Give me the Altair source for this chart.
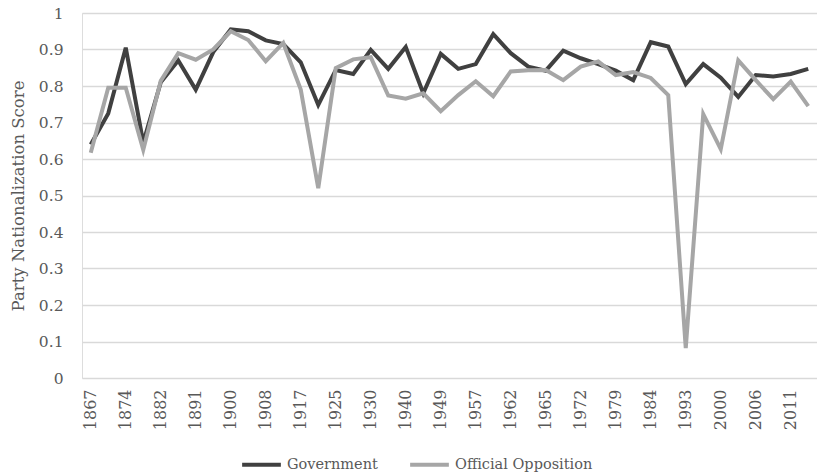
import altair as alt
import pandas as pd

years = ["1867", "1872", "1874", "1878", "1882", "1887", "1891", "1896", "1900", "1904",
         "1908", "1911", "1917", "1921", "1925", "1926", "1930", "1935", "1940", "1945",
         "1949", "1953", "1957", "1958", "1962", "1963", "1965", "1968", "1972", "1974",
         "1979", "1980", "1984", "1988", "1993", "1997", "2000", "2004", "2006", "2008",
         "2011", "2015"]

government = [0.64, 0.725, 0.905, 0.645, 0.81, 0.87, 0.79, 0.893, 0.955, 0.95,
              0.925, 0.915, 0.865, 0.748, 0.844, 0.833, 0.899, 0.847, 0.907, 0.78,
              0.888, 0.847, 0.86, 0.942, 0.89, 0.853, 0.842, 0.897, 0.876, 0.86,
              0.842, 0.816, 0.92, 0.908, 0.805, 0.86, 0.823, 0.77, 0.83, 0.826,
              0.833, 0.847]

opposition = [0.617, 0.795, 0.795, 0.625, 0.814, 0.89, 0.872, 0.9, 0.95, 0.926,
              0.868, 0.918, 0.79, 0.52, 0.849, 0.873, 0.879, 0.774, 0.765, 0.78,
              0.731, 0.775, 0.813, 0.772, 0.84, 0.843, 0.844, 0.816, 0.853, 0.867,
              0.83, 0.838, 0.822, 0.775, 0.082, 0.723, 0.627, 0.87, 0.816, 0.764,
              0.812, 0.745]

series_names = ["Government", "Official Opposition"]
series_colors = ["#404040", "#a6a6a6"]
label_years = years[::2]
y_ticks = [round(i * 0.1, 1) for i in range(11)]

rows = []
for i, yr in enumerate(years):
    rows.append({"year": yr, "order": i, "series": series_names[0], "value": government[i]})
    rows.append({"year": yr, "order": i, "series": series_names[1], "value": opposition[i]})
df = pd.DataFrame(rows)

FONT = "DejaVu Serif"
TEXT = "#595959"

chart = alt.Chart(df).mark_line(strokeWidth=4, strokeJoin="miter").encode(
    x=alt.X("year:O", sort=years,
            scale=alt.Scale(type="point", padding=0.5),
            axis=alt.Axis(values=label_years, labelAngle=-90, title=None, ticks=False,
                          domain=False, grid=False, labelPadding=11, labelFontSize=16,
                          labelFont=FONT, labelColor=TEXT)),
    y=alt.Y("value:Q", scale=alt.Scale(domain=[0, 1], nice=False, zero=True),
            axis=alt.Axis(values=y_ticks, format=".1~f", title="Party Nationalization Score",
                          ticks=False, domain=False, gridColor="#d9d9d9", gridWidth=1.5,
                          labelPadding=19, labelFontSize=15.5, labelFont=FONT, labelColor=TEXT,
                          titleFont=FONT, titleFontSize=16.5, titleFontWeight="normal",
                          titleColor=TEXT, titlePadding=12)),
    color=alt.Color("series:N", scale=alt.Scale(domain=series_names, range=series_colors),
                    legend=alt.Legend(title=None, orient="none", direction="horizontal",
                                      legendX=158, legendY=430,
                                      symbolType="stroke", symbolSize=1500,
                                      symbolStrokeWidth=4, labelFont=FONT,
                                      labelFontSize=14.5, labelColor=TEXT,
                                      labelOffset=4, columnPadding=24)),
    order="order:Q",
).properties(
    width=735, height=365,
    autosize=alt.AutoSizeParams(type="none"),
    padding={"left": 82, "top": 13, "right": 0, "bottom": 98},
).configure_view(stroke=None).configure(background="white")

chart.save("out.html", embed_options={"renderer": "svg", "actions": False})
